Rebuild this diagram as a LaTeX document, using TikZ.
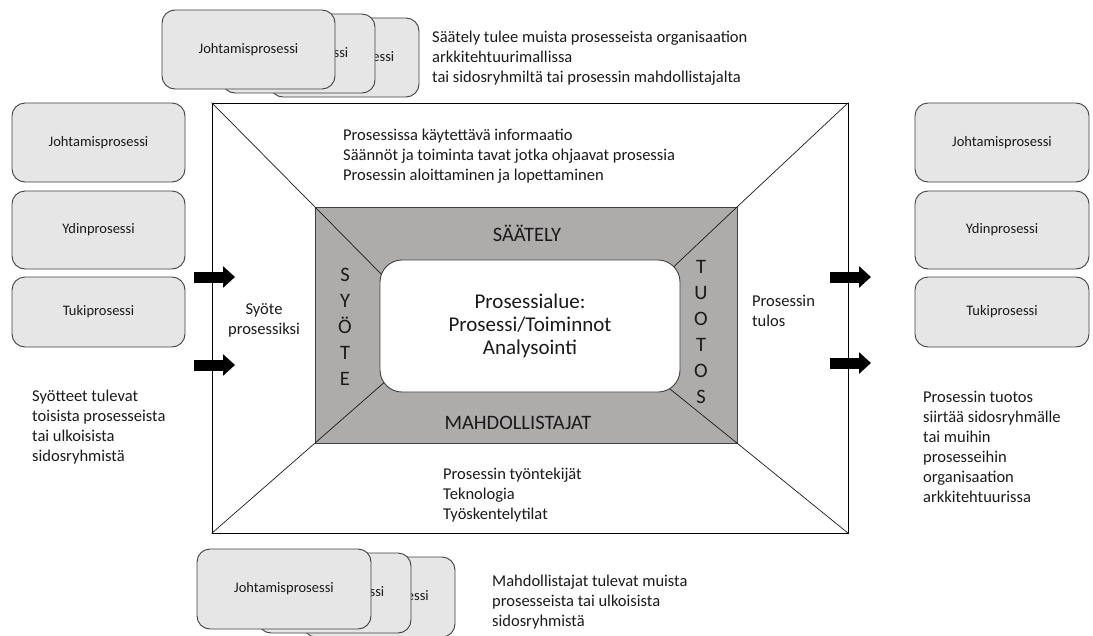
\documentclass[tikz,border=0pt]{standalone}
\usepackage{fontspec}
\setmainfont{Carlito}
\usetikzlibrary{arrows.meta}
\definecolor{boxfill}{HTML}{E7E6E6}
\definecolor{boxline}{HTML}{404040}
\definecolor{ringfill}{HTML}{AEABAB}
\definecolor{inkc}{HTML}{1A1A1A}
\begin{document}
\begin{tikzpicture}[x=1pt,y=-1pt,
  procbox/.style={draw=boxline, fill=boxfill, rounded corners=13pt, line width=0.9pt,
    inner sep=0pt, font=\fontsize{14.5}{17}\selectfont, text=inkc},
  note/.style={align=left, anchor=west, inner sep=0pt,
    font=\fontsize{16.5}{20}\selectfont, text=inkc},
  capword/.style={inner sep=0pt, font=\fontsize{20.5}{24}\selectfont, text=inkc},
  vword/.style={align=center, inner sep=0pt, font=\fontsize{20.5}{26}\selectfont, text=inkc},
  diag/.style={draw=inkc, line width=0.7pt},
  fatarrow/.style={line width=11pt, -{Triangle[length=12pt,width=21pt]}, draw=black}
]
\useasboundingbox (0,0) rectangle (1093,635);

% ---- main frame: outer field, grey ring, diagonals, core ----
\node[draw=black, fill=white, line width=0.8pt, minimum width=636pt, minimum height=430pt,
  inner sep=0pt] (outer) at (530,318) {};
\node[draw=boxline, fill=ringfill, line width=0.8pt, minimum width=422pt, minimum height=236pt,
  inner sep=0pt] (ring) at (526,325) {};

\coordinate (tlend) at (390,283);
\coordinate (trend) at (665,275);
\coordinate (blend) at (395,373);
\coordinate (brend) at (665,385);
\draw[diag] (outer.north west) -- (ring.north west) -- (tlend);
\draw[diag] (outer.north east) -- (ring.north east) -- (trend);
\draw[diag] (outer.south west) -- (ring.south west) -- (blend);
\draw[diag] (outer.south east) -- (ring.south east) -- (brend);

\node[draw=boxline, fill=white, line width=0.9pt, rounded corners=22pt,
  minimum width=300pt, minimum height=132pt, inner sep=0pt, align=center,
  font=\fontsize{21}{23}\selectfont, text=inkc] (core) at (530,326)
  {Prosessialue:\\ Prosessi/Toiminnot\\Analysointi};

\node[capword] (saat) at (527,233) {SÄÄTELY};
\node[capword] (mahd) at (518,423) {MAHDOLLISTAJAT};
\node[vword] (syote) at (345,327) {S\\Y\\Ö\\T\\E};
\node[vword] (tuotos) at (701,332) {T\\U\\O\\T\\O\\S};

% ---- process stacks above and below ----
\node[procbox, minimum width=149pt, minimum height=79pt] (tb3) at (344.5,57.5) {Johtamisprosessi};
\node[procbox, minimum width=153pt, minimum height=79pt] (tb2) at (298.5,53.5) {Johtamisprosessi};
\node[procbox, minimum width=173pt, minimum height=79pt] (tb1) at (248.5,49.5) {Johtamisprosessi};

\node[procbox, minimum width=152pt, minimum height=80pt] (bb3) at (379,597) {Johtamisprosessi};
\node[procbox, minimum width=153pt, minimum height=80pt] (bb2) at (334.5,593) {Johtamisprosessi};
\node[procbox, minimum width=174pt, minimum height=80pt] (bb1) at (284,589) {Johtamisprosessi};

% ---- process columns left and right ----
\node[procbox, minimum width=173pt, minimum height=79pt] (lj) at (98.5,142.5) {Johtamisprosessi};
\node[procbox, minimum width=173pt, minimum height=78pt] (ly) at (98.5,230) {Ydinprosessi};
\node[procbox, minimum width=173pt, minimum height=70pt] (lt) at (98.5,312) {Tukiprosessi};

\node[procbox, minimum width=174pt, minimum height=79pt] (rj) at (1002,142.5) {Johtamisprosessi};
\node[procbox, minimum width=174pt, minimum height=78pt] (ry) at (1002,230) {Ydinprosessi};
\node[procbox, minimum width=174pt, minimum height=70pt] (rt) at (1002,312) {Tukiprosessi};

% ---- block arrows ----
\coordinate (ina1) at (194,277);  \coordinate (inb1) at (235,277);
\coordinate (ina2) at (194,365);  \coordinate (inb2) at (235,365);
\coordinate (outa1) at (830,277); \coordinate (outb1) at (871,277);
\coordinate (outa2) at (830,363); \coordinate (outb2) at (871,363);
\draw[fatarrow] (ina1) -- (inb1);
\draw[fatarrow] (ina2) -- (inb2);
\draw[fatarrow] (outa1) -- (outb1);
\draw[fatarrow] (outa2) -- (outb2);

% ---- descriptive texts ----
\node[note] (regnote) at (432,58)
  {Säätely tulee muista prosesseista organisaation\\arkkitehtuurimallissa\\tai sidosryhmiltä tai prosessin mahdollistajalta};
\node[note] (infonote) at (343,156)
  {Prosessissa käytettävä informaatio\\Säännöt ja toiminta tavat jotka ohjaavat prosessia\\Prosessin aloittaminen ja lopettaminen};
\node[note, align=center, anchor=center] (innote) at (264,320) {Syöte\\prosessiksi};
\node[note] (outnote) at (752,311) {Prosessin\\tulos};
\node[note] (srcnote) at (32,427)
  {Syötteet tulevat\\toisista prosesseista\\tai ulkoisista\\sidosryhmistä};
\node[note] (sinknote) at (923,447)
  {Prosessin tuotos\\siirtää sidosryhmälle\\tai muihin\\prosesseihin\\organisaation\\arkkitehtuurissa};
\node[note] (enbnote) at (443,495)
  {Prosessin työntekijät\\Teknologia\\Työskentelytilat};
\node[note] (enbsrc) at (492,602)
  {Mahdollistajat tulevat muista\\prosesseista tai ulkoisista\\sidosryhmistä};
\end{tikzpicture}
\end{document}
